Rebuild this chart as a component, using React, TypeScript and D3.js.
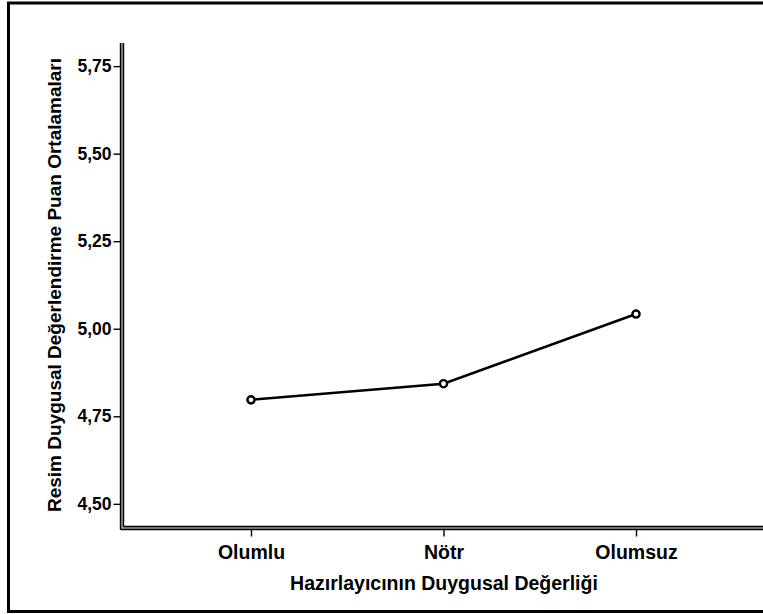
import React, { useEffect, useRef } from 'react'
import * as d3 from 'd3'

// kategori ve ortalama değerleri
const categories = ['Olumlu', 'Nötr', 'Olumsuz']
const means = [4.797, 4.843, 5.042]
const yTicks = [4.5, 4.75, 5.0, 5.25, 5.5, 5.75]
const yDomain = [4.431, 5.816]

const xTitle = 'Hazırlayıcının Duygusal Değerliği'
const yTitle = 'Resim Duygusal Değerlendirme Puan Ortalamaları'

const W = 763
const H = 614
const FONT = '"Liberation Sans", Arial, sans-serif'

export default function App() {
  const ref = useRef<SVGSVGElement>(null)

  useEffect(() => {
    const svg = d3.select(ref.current)
    svg.selectAll('*').remove()

    const axisX = 122
    const axisY = 528

    let yScale = d3.scaleLinear().domain(yDomain).range([axisY, 43])
    let xScale = d3.scalePoint().domain(categories).range([251, 636])

    // çerçeve
    svg.append('rect')
      .attr('x', 8.5).attr('y', 3)
      .attr('width', 800).attr('height', 608.5)
      .attr('fill', 'none').attr('stroke', '#000').attr('stroke-width', 3)

    // y ekseni
    let yAxis = d3.axisLeft(yScale)
      .tickValues(yTicks)
      .tickSize(7)
      .tickPadding(2)
      .tickFormat((d: any) => d3.format('.2f')(d).replace('.', ','))

    let gY = svg.append('g')
      .attr('transform', `translate(${axisX - 1.5},0)`)
      .call(yAxis)
    gY.select('.domain').remove()
    gY.selectAll('line').attr('stroke', '#000').attr('stroke-width', 1.4)
    gY.selectAll('text')
      .attr('font-family', FONT).attr('font-size', 17.5).attr('font-weight', 'bold')
      .attr('fill', '#000')

    // x ekseni
    let xAxis = d3.axisBottom(xScale).tickSize(7).tickPadding(9)
    let gX = svg.append('g')
      .attr('transform', `translate(0,${axisY + 1.5})`)
      .call(xAxis)
    gX.select('.domain').remove()
    gX.selectAll('line').attr('stroke', '#000').attr('stroke-width', 1.4)
    gX.selectAll('text')
      .attr('font-family', FONT).attr('font-size', 19.5).attr('font-weight', 'bold')
      .attr('fill', '#000')

    // çift çizgili eksenler
    const yTop = yScale(yDomain[1])
    svg.append('rect')
      .attr('x', axisX - 2).attr('y', yTop)
      .attr('width', 4).attr('height', axisY + 2 - yTop)
      .attr('fill', '#999')
    svg.append('rect')
      .attr('x', axisX - 2).attr('y', axisY - 2)
      .attr('width', W - axisX + 2).attr('height', 4)
      .attr('fill', '#999')
    const dbl = [
      [axisX - 1.5, yTop, axisX - 1.5, axisY + 1.5],
      [axisX + 1.5, yTop, axisX + 1.5, axisY - 1.5],
      [axisX - 1.5, axisY + 1.5, W, axisY + 1.5],
      [axisX + 1.5, axisY - 1.5, W, axisY - 1.5],
    ]
    svg.selectAll('line.dbl').data(dbl).enter().append('line')
      .attr('class', 'dbl')
      .attr('x1', d => d[0]).attr('y1', d => d[1])
      .attr('x2', d => d[2]).attr('y2', d => d[3])
      .attr('stroke', '#000').attr('stroke-width', 1.4)

    // çizgi
    let line = d3.line<number>()
      .x((d, i) => xScale(categories[i]) as number)
      .y(d => yScale(d))
    svg.append('path')
      .datum(means)
      .attr('d', line)
      .attr('fill', 'none').attr('stroke', '#000').attr('stroke-width', 2.5)

    svg.selectAll('circle').data(means).enter().append('circle')
      .attr('cx', (d, i) => xScale(categories[i]) as number)
      .attr('cy', d => yScale(d))
      .attr('r', 3.6)
      .attr('fill', '#fff').attr('stroke', '#000').attr('stroke-width', 2.4)

    // başlıklar
    svg.append('text')
      .attr('x', 444).attr('y', 590)
      .attr('text-anchor', 'middle')
      .attr('font-family', FONT).attr('font-size', 19.5).attr('font-weight', 'bold')
      .text(xTitle)

    svg.append('text')
      .attr('transform', 'translate(61,285) rotate(-90)')
      .attr('text-anchor', 'middle')
      .attr('font-family', FONT).attr('font-size', 19).attr('font-weight', 'bold')
      .text(yTitle)
  }, [])

  return (
    <svg ref={ref} width={W} height={H}
      style={{ position: 'absolute', left: 0, top: 0, background: '#fff' }} />
  )
}
